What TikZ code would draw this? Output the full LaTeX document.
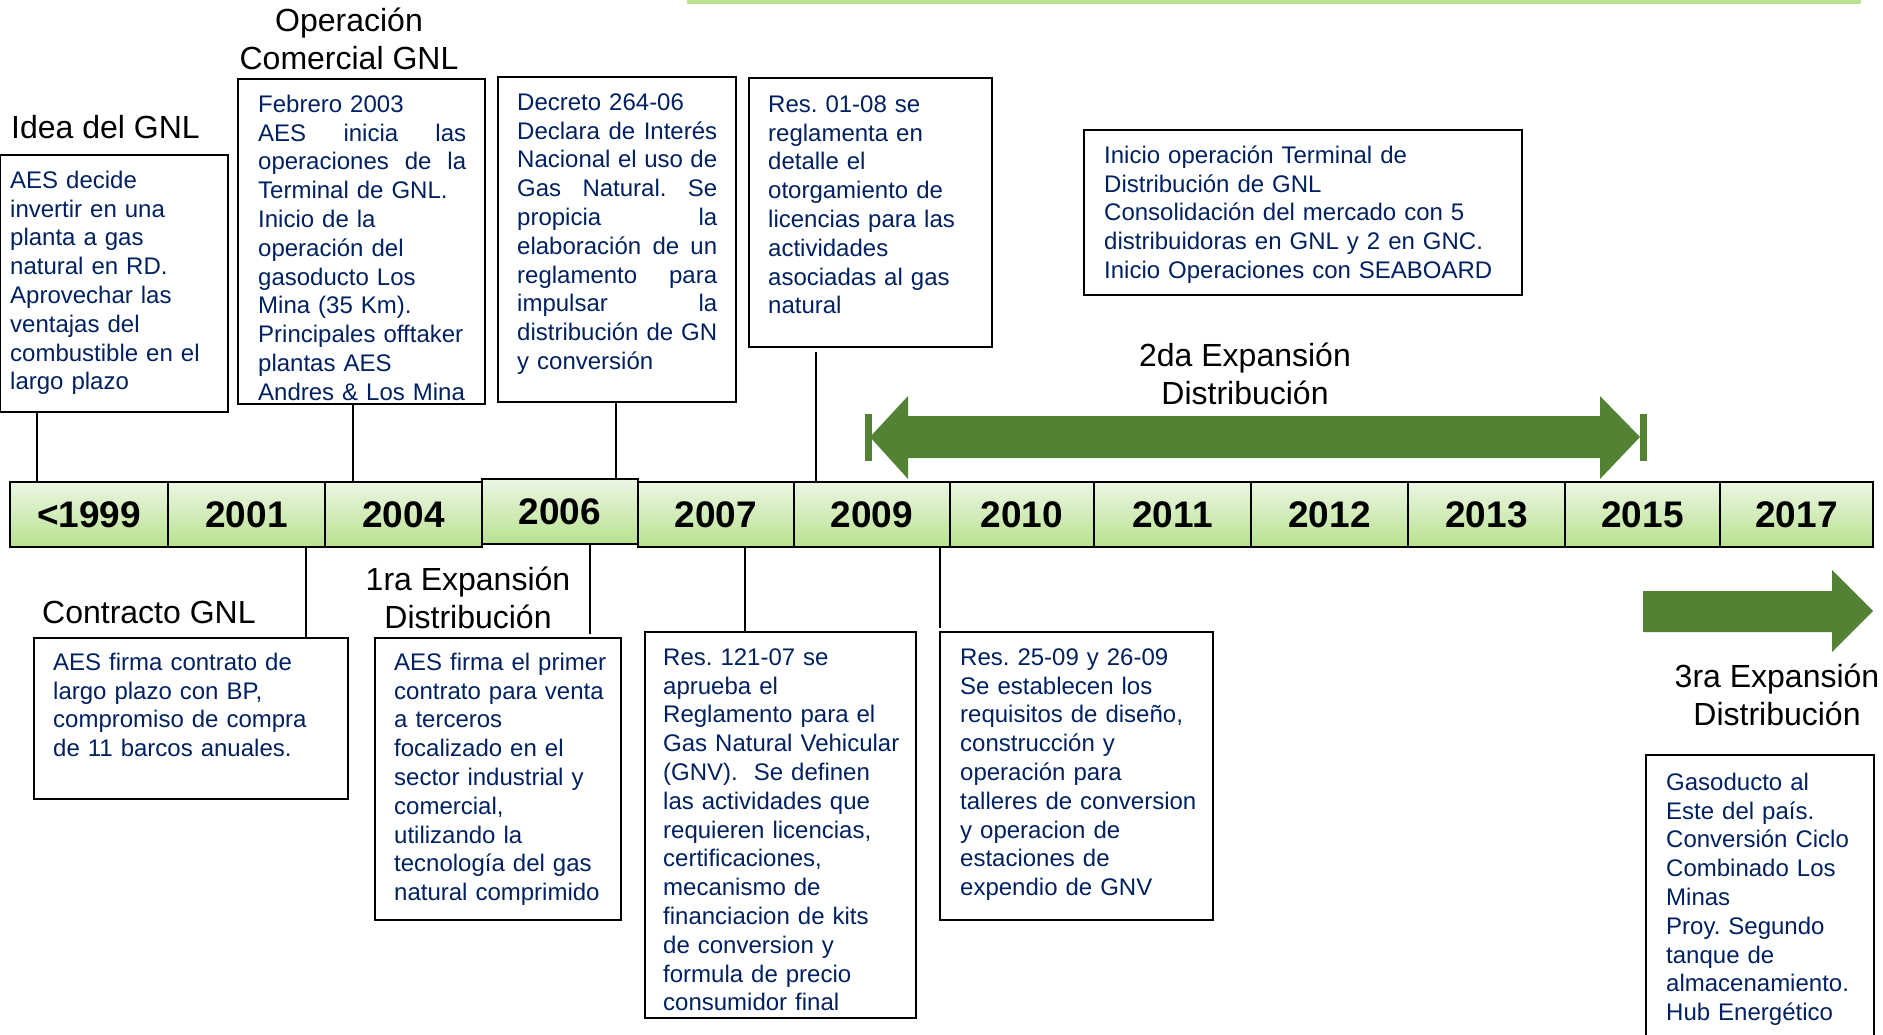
\documentclass[tikz,border=0pt]{standalone}
\usepackage{fontspec}
\setmainfont{Liberation Sans}
\usepackage{tikz}
\usetikzlibrary{positioning}

\definecolor{navytxt}{RGB}{0,32,96}
\definecolor{arrowgreen}{RGB}{84,130,53}
\definecolor{bartop}{RGB}{236,246,228}
\definecolor{barbot}{RGB}{184,226,142}
\newcommand{\evfont}{\fontsize{24}{28.8}\selectfont}
\newcommand{\headfont}{\fontsize{32}{38.4}\selectfont}
\frenchspacing

\begin{document}
\begin{tikzpicture}[x=1pt,y=-1pt,
    evbox/.style={draw, line width=2pt, anchor=north west, inner sep=0pt, outer sep=0pt},
    evtext/.style={anchor=north west, inner sep=0pt, align=left, text=navytxt, font=\evfont},
    headtxt/.style={align=center, inner sep=0pt, font=\headfont},
    yearcell/.style={draw, line width=2pt, top color=bartop, bottom color=barbot,
      anchor=north west, minimum height=65pt, inner sep=0pt, outer sep=0pt,
      font=\fontsize{37}{40}\bfseries\selectfont},
    link/.style={line width=1.3pt}]
   \useasboundingbox (0,0) rectangle (1883,1034);
   \clip (0,0) rectangle (1883,1034);

   \fill[barbot] (687,0) rectangle (1861,4);

   % timeline
   \node[yearcell, minimum width=158pt] (c1999) at (10,482) {\textless 1999};
   \node[yearcell, minimum width=157pt] (c2001) at (168,482) {2001};
   \node[yearcell, minimum width=157pt] (c2004) at (325,482) {2004};
   \node[yearcell, minimum width=156pt] (c2006) at (482,479) {2006};
   \node[yearcell, minimum width=156pt] (c2007) at (638,482) {2007};
   \node[yearcell, minimum width=156pt] (c2009) at (794,482) {2009};
   \node[yearcell, minimum width=144pt] (c2010) at (950,482) {2010};
   \node[yearcell, minimum width=157pt] (c2011) at (1094,482) {2011};
   \node[yearcell, minimum width=157pt] (c2012) at (1251,482) {2012};
   \node[yearcell, minimum width=157pt] (c2013) at (1408,482) {2013};
   \node[yearcell, minimum width=155pt] (c2015) at (1565,482) {2015};
   \node[yearcell, minimum width=153pt] (c2017) at (1720,482) {2017};

   % upper events
   \node[headtxt] (t2003) at (349,39) {Operación\\Comercial GNL};
   \node[headtxt, anchor=west] (tidea) at (11,127) {Idea del GNL};

   \node[evbox, minimum width=228pt, minimum height=257pt] (idea) at (0,155) {};
   \node[evtext, text width=212pt] (ideatxt) at ([shift={(10,13)}]idea.north west)
     {\strut AES decide\\invertir en una\\planta a gas\\natural en RD.\\Aprovechar las\\ventajas del\\combustible en el\\largo plazo};

   \node[evbox, minimum width=247pt, minimum height=325pt] (feb) at (238,79) {};
   \node[evtext, text width=208pt] (febtxt) at ([shift={(20,13)}]feb.north west)
     {\strut Febrero 2003\\AES\hfill inicia\hfill las\\operaciones\hfill de\hfill la\\Terminal de GNL.\\Inicio de la\\operación del\\gasoducto Los\\Mina (35 Km).\\Principales offtaker\\plantas AES\\Andres \& Los Mina};

   \node[evbox, minimum width=238pt, minimum height=325pt] (decreto) at (498,77) {};
   \node[evtext, text width=200pt] (decretotxt) at ([shift={(19,13)}]decreto.north west)
     {\strut Decreto 264-06\\Declara\hfill de\hfill Interés\\Nacional\hfill el\hfill uso\hfill de\\Gas\hfill Natural.\hfill Se\\propicia\hfill la\\elaboración\hfill de\hfill un\\reglamento\hfill para\\impulsar\hfill la\\distribución\hfill de\hfill GN\\y conversión};

   \node[evbox, minimum width=243pt, minimum height=269pt] (res01) at (749,78) {};
   \node[evtext, text width=215pt] (res01txt) at ([shift={(19,14)}]res01.north west)
     {\strut Res. 01-08 se\\reglamenta en\\detalle el\\otorgamiento de\\licencias para las\\actividades\\asociadas al gas\\natural};

   \node[evbox, minimum width=438pt, minimum height=165pt] (inicio) at (1084,130) {};
   \node[evtext, text width=410pt] (iniciotxt) at ([shift={(20,13)}]inicio.north west)
     {\strut Inicio operación Terminal de\\Distribución de GNL\\Consolidación del mercado con 5\\distribuidoras en GNL y 2 en GNC.\\Inicio Operaciones con SEABOARD};

   \node[headtxt] (t2da) at (1245,374) {2da Expansión\\Distribución};
   \fill[arrowgreen] (870,437) -- (908,396) -- (908,416) -- (1600,416) -- (1600,396)
     -- (1640,437) -- (1600,479) -- (1600,458) -- (908,458) -- (908,479) -- cycle;
   \fill[arrowgreen] (865,414) rectangle (872,461);
   \fill[arrowgreen] (1640,414) rectangle (1647,461);

   % lower events
   \node[headtxt, anchor=west] (tcontr) at (42,612) {Contracto GNL};
   \node[evbox, minimum width=314pt, minimum height=161pt] (contr) at (34,638) {};
   \node[evtext, text width=290pt] (contrtxt) at ([shift={(19,12)}]contr.north west)
     {\strut AES firma contrato de\\largo plazo con BP,\\compromiso de compra\\de 11 barcos anuales.};

   \node[headtxt] (t1ra) at (468,598) {1ra Expansión\\Distribución};
   \node[evbox, minimum width=246pt, minimum height=282pt] (exp1) at (375,638) {};
   \node[evtext, text width=222pt] (exp1txt) at ([shift={(19,12)}]exp1.north west)
     {\strut AES firma el primer\\contrato para venta\\a terceros\\focalizado en el\\sector industrial y\\comercial,\\utilizando la\\tecnología del gas\\natural comprimido};

   \node[evbox, minimum width=271pt, minimum height=386pt] (res121) at (645,632) {};
   \node[evtext, text width=248pt] (res121txt) at ([shift={(18,13)}]res121.north west)
     {\strut Res. 121-07 se\\aprueba el\\Reglamento para el\\Gas Natural Vehicular\\(GNV).~ Se definen\\las actividades que\\requieren licencias,\\certificaciones,\\mecanismo de\\financiacion de kits\\de conversion y\\formula de precio\\consumidor final};

   \node[evbox, minimum width=273pt, minimum height=288pt] (res25) at (940,632) {};
   \node[evtext, text width=250pt] (res25txt) at ([shift={(20,13)}]res25.north west)
     {\strut Res. 25-09 y 26-09\\Se establecen los\\requisitos de diseño,\\construcción y\\operación para\\talleres de conversion\\y operacion de\\estaciones de\\expendio de GNV};

   \fill[arrowgreen] (1643,591) -- (1832,591) -- (1832,570) -- (1873,611) -- (1832,652)
     -- (1832,632) -- (1643,632) -- cycle;
   \node[headtxt] (t3ra) at (1777,695) {3ra Expansión\\Distribución};
   \node[evbox, minimum width=228pt, minimum height=300pt] (gasod) at (1646,755) {};
   \node[evtext, text width=210pt] (gasodtxt) at ([shift={(20,15)}]gasod.north west)
     {\strut Gasoducto al\\Este del país.\\Conversión Ciclo\\Combinado Los\\Minas\\Proy. Segundo\\tanque de\\almacenamiento.\\Hub Energético};

   % connectors
   \coordinate (ideaC) at ([xshift=37pt]idea.south west);
   \coordinate (febC) at ([xshift=115pt]feb.south west);
   \coordinate (decretoC) at ([xshift=118pt]decreto.south west);
   \coordinate (res01C) at ([shift={(67,5)}]res01.south west);
   \draw[link] (ideaC) -- (ideaC |- c1999.north);
   \draw[link] (febC) -- (febC |- c2004.north);
   \draw[link] (decretoC) -- (decretoC |- c2006.north);
   \draw[link] (res01C) -- (res01C |- c2009.north);

   \coordinate (contrC) at ([xshift=272pt]contr.north west);
   \coordinate (exp1C) at ([shift={(215,-4)}]exp1.north west);
   \coordinate (res121C) at ([xshift=100pt]res121.north west);
   \coordinate (res25C) at ([shift={(0,-4)}]res25.north west);
   \draw[link] (contrC |- c2001.south) -- (contrC);
   \draw[link] (exp1C |- c2006.south) -- (exp1C);
   \draw[link] (res121C |- c2007.south) -- (res121C);
   \draw[link] (res25C |- c2009.south) -- (res25C);
\end{tikzpicture}
\end{document}
